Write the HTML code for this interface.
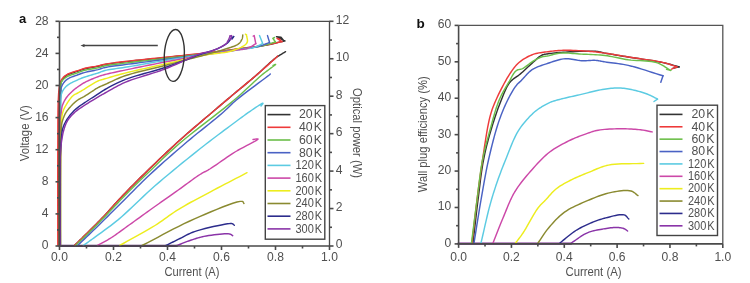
<!DOCTYPE html>
<html><head><meta charset="utf-8"><style>
html,body{margin:0;padding:0;background:#fff;}
body{width:750px;height:283px;overflow:hidden;}
svg{display:block;filter:blur(0.3px);}
text{font-family:"Liberation Sans", sans-serif;fill:#505050;}
</style></head><body>
<svg width="750" height="283" viewBox="0 0 750 283">
<g fill="none" stroke-linejoin="round" stroke-linecap="round">
<path d="M59.5 245.8 L177 245.8" stroke="#5a2a70" stroke-width="2.2"/>
<path d="M74.50 245.50 L75.48 244.54 L76.44 243.61 L77.38 242.68 L78.33 241.76 L79.28 240.83 L80.24 239.89 L81.23 238.92 L82.24 237.93 L83.30 236.89 L84.40 235.80 L85.95 234.27 L87.57 232.68 L89.25 231.02 L90.98 229.31 L92.76 227.56 L94.57 225.76 L96.40 223.93 L98.24 222.07 L100.07 220.19 L101.90 218.30 L103.96 216.13 L106.02 213.90 L108.10 211.62 L110.20 209.30 L112.31 206.95 L114.45 204.58 L116.61 202.19 L118.81 199.79 L121.03 197.39 L123.30 195.00 L125.82 192.38 L128.39 189.75 L130.99 187.10 L133.64 184.43 L136.31 181.75 L139.01 179.07 L141.74 176.38 L144.48 173.68 L147.23 170.99 L150.00 168.30 L152.90 165.49 L155.82 162.67 L158.75 159.84 L161.70 157.01 L164.68 154.18 L167.68 151.35 L170.72 148.51 L173.78 145.67 L176.87 142.84 L180.00 140.00 L183.42 136.95 L187.00 133.80 L190.68 130.61 L194.41 127.40 L198.14 124.22 L201.81 121.09 L205.38 118.07 L208.79 115.19 L211.98 112.49 L214.90 110.00 L216.64 108.51 L218.25 107.14 L219.76 105.86 L221.19 104.64 L222.59 103.46 L223.97 102.28 L225.37 101.10 L226.82 99.87 L228.36 98.58 L230.00 97.20 L232.29 95.29 L234.71 93.27 L237.23 91.18 L239.84 89.03 L242.49 86.84 L245.15 84.63 L247.81 82.43 L250.42 80.24 L252.96 78.09 L255.40 76.00 L257.55 74.11 L259.71 72.17 L261.85 70.20 L263.97 68.23 L266.05 66.29 L268.09 64.41 L270.08 62.62 L272.00 60.93 L273.84 59.38 L275.60 58.00 L276.70 57.19 L277.75 56.46 L278.77 55.79 L279.75 55.16 L280.72 54.57 L281.67 54.01 L282.62 53.45 L283.56 52.89 L284.52 52.31 L285.50 51.70" stroke="#333333" stroke-width="1.45"/>
<path d="M74.50 245.50 L75.48 244.54 L76.44 243.61 L77.38 242.68 L78.33 241.76 L79.28 240.83 L80.24 239.89 L81.23 238.92 L82.24 237.93 L83.30 236.89 L84.40 235.80 L85.95 234.27 L87.57 232.68 L89.25 231.02 L90.98 229.31 L92.76 227.56 L94.57 225.76 L96.40 223.93 L98.24 222.07 L100.07 220.19 L101.90 218.30 L103.96 216.13 L106.02 213.90 L108.10 211.62 L110.20 209.30 L112.31 206.95 L114.45 204.58 L116.61 202.19 L118.81 199.79 L121.03 197.39 L123.30 195.00 L125.82 192.38 L128.39 189.75 L130.99 187.10 L133.64 184.43 L136.31 181.75 L139.01 179.07 L141.74 176.38 L144.48 173.68 L147.23 170.99 L150.00 168.30 L152.90 165.49 L155.82 162.67 L158.75 159.84 L161.70 157.01 L164.68 154.18 L167.68 151.35 L170.72 148.51 L173.78 145.67 L176.87 142.84 L180.00 140.00 L183.42 136.95 L187.00 133.80 L190.68 130.61 L194.41 127.40 L198.14 124.22 L201.81 121.09 L205.38 118.07 L208.79 115.19 L211.98 112.49 L214.90 110.00 L216.64 108.51 L218.25 107.14 L219.76 105.86 L221.19 104.64 L222.59 103.46 L223.97 102.28 L225.37 101.10 L226.82 99.87 L228.36 98.58 L230.00 97.20 L232.29 95.29 L234.71 93.27 L237.23 91.18 L239.84 89.03 L242.49 86.84 L245.15 84.63 L247.81 82.43 L250.42 80.24 L252.96 78.09 L255.40 76.00 L257.62 74.08 L259.94 72.05 L262.31 69.97 L264.67 67.88 L266.97 65.84 L269.15 63.89 L271.15 62.08 L272.93 60.46 L274.44 59.09 L275.60 58.00 L275.90 57.71 L276.17 57.46 L276.40 57.23 L276.60 57.02 L276.79 56.83 L276.97 56.65 L277.14 56.47 L277.32 56.29 L277.50 56.10 L277.70 55.90" stroke="#ee3a3a" stroke-width="1.45"/>
<path d="M75.50 245.50 L76.54 244.51 L77.56 243.54 L78.58 242.59 L79.59 241.63 L80.60 240.67 L81.63 239.70 L82.68 238.71 L83.75 237.68 L84.85 236.61 L86.00 235.50 L87.53 234.00 L89.12 232.44 L90.76 230.82 L92.43 229.16 L94.14 227.45 L95.88 225.71 L97.65 223.94 L99.42 222.14 L101.21 220.33 L103.00 218.50 L105.05 216.39 L107.12 214.23 L109.21 212.02 L111.33 209.78 L113.47 207.51 L115.63 205.22 L117.82 202.92 L120.02 200.61 L122.25 198.30 L124.50 196.00 L126.94 193.54 L129.40 191.06 L131.89 188.57 L134.40 186.08 L136.94 183.57 L139.50 181.06 L142.09 178.53 L144.70 176.00 L147.34 173.45 L150.00 170.90 L152.84 168.17 L155.66 165.46 L158.47 162.75 L161.31 160.03 L164.19 157.30 L167.13 154.54 L170.16 151.74 L173.30 148.89 L176.57 145.98 L180.00 143.00 L184.81 138.96 L190.05 134.72 L195.60 130.34 L201.36 125.85 L207.22 121.33 L213.07 116.82 L218.80 112.38 L224.31 108.06 L229.48 103.92 L234.20 100.00 L237.42 97.22 L240.52 94.46 L243.51 91.74 L246.40 89.06 L249.19 86.45 L251.89 83.92 L254.49 81.50 L257.01 79.19 L259.44 77.02 L261.80 75.00 L263.48 73.64 L265.29 72.24 L267.15 70.83 L269.00 69.47 L270.76 68.18 L272.36 67.02 L273.71 66.02 L274.75 65.22 L275.41 64.67 L275.60 64.40 L275.53 64.39 L275.38 64.42 L275.16 64.50 L274.90 64.62 L274.59 64.76 L274.26 64.91 L273.93 65.07 L273.59 65.23 L273.28 65.38 L273.00 65.50" stroke="#6cbf4a" stroke-width="1.45"/>
<path d="M77.60 245.50 L79.84 243.36 L82.06 241.23 L84.29 239.11 L86.51 236.99 L88.73 234.87 L90.96 232.74 L93.20 230.59 L95.45 228.42 L97.72 226.23 L100.00 224.00 L102.47 221.58 L104.96 219.11 L107.47 216.62 L109.99 214.09 L112.53 211.56 L115.07 209.01 L117.61 206.47 L120.15 203.93 L122.68 201.40 L125.20 198.90 L127.66 196.46 L130.08 194.04 L132.47 191.64 L134.85 189.24 L137.25 186.85 L139.67 184.44 L142.14 182.01 L144.67 179.55 L147.29 177.05 L150.00 174.50 L153.38 171.38 L156.91 168.16 L160.55 164.88 L164.28 161.56 L168.08 158.21 L171.91 154.85 L175.76 151.51 L179.59 148.21 L183.38 144.96 L187.10 141.80 L190.66 138.82 L194.32 135.81 L198.04 132.80 L201.76 129.82 L205.45 126.88 L209.05 123.99 L212.54 121.19 L215.85 118.50 L218.95 115.93 L221.80 113.50 L223.51 111.99 L225.05 110.58 L226.47 109.23 L227.81 107.94 L229.11 106.68 L230.40 105.42 L231.74 104.15 L233.16 102.83 L234.70 101.46 L236.40 100.00 L239.32 97.62 L242.80 94.89 L246.65 91.94 L250.70 88.88 L254.77 85.84 L258.68 82.93 L262.26 80.27 L265.32 77.98 L267.70 76.19 L269.20 75.00 L269.38 74.85 L269.52 74.72 L269.65 74.61 L269.76 74.51 L269.85 74.43 L269.94 74.34 L270.02 74.26 L270.11 74.18 L270.20 74.09 L270.30 74.00" stroke="#4a62c4" stroke-width="1.45"/>
<path d="M83.30 245.50 L84.45 244.67 L85.58 243.87 L86.69 243.08 L87.79 242.29 L88.91 241.50 L90.04 240.69 L91.21 239.86 L92.41 238.99 L93.67 238.07 L95.00 237.10 L96.99 235.65 L99.09 234.13 L101.29 232.56 L103.56 230.92 L105.90 229.21 L108.31 227.43 L110.76 225.59 L113.25 223.67 L115.77 221.67 L118.30 219.60 L121.66 216.72 L125.11 213.64 L128.64 210.38 L132.24 206.99 L135.91 203.50 L139.64 199.94 L143.42 196.36 L147.24 192.78 L151.11 189.25 L155.00 185.80 L159.31 182.08 L163.78 178.28 L168.36 174.43 L173.01 170.58 L177.69 166.73 L182.35 162.93 L186.95 159.21 L191.46 155.59 L195.82 152.11 L200.00 148.80 L203.24 146.25 L206.42 143.77 L209.55 141.37 L212.61 139.03 L215.62 136.74 L218.58 134.51 L221.50 132.33 L224.37 130.19 L227.20 128.08 L230.00 126.00 L232.36 124.24 L234.72 122.49 L237.06 120.74 L239.37 119.03 L241.65 117.35 L243.87 115.73 L246.03 114.17 L248.11 112.69 L250.10 111.29 L252.00 110.00 L253.33 109.11 L254.73 108.16 L256.17 107.20 L257.59 106.26 L258.94 105.38 L260.18 104.59 L261.25 103.95 L262.11 103.47 L262.71 103.21 L263.00 103.20 L263.01 103.31 L262.93 103.49 L262.78 103.72 L262.58 104.01 L262.33 104.33 L262.05 104.67 L261.76 105.02 L261.48 105.37 L261.22 105.70 L261.00 106.00" stroke="#5ccbe2" stroke-width="1.45"/>
<path d="M97.50 245.50 L98.91 244.71 L100.33 243.92 L101.75 243.15 L103.18 242.37 L104.60 241.59 L106.02 240.80 L107.43 240.01 L108.83 239.19 L110.22 238.36 L111.60 237.50 L112.95 236.62 L114.27 235.74 L115.55 234.85 L116.82 233.95 L118.09 233.03 L119.38 232.09 L120.70 231.12 L122.07 230.12 L123.50 229.08 L125.00 228.00 L127.18 226.44 L129.48 224.78 L131.88 223.05 L134.37 221.26 L136.92 219.41 L139.51 217.54 L142.14 215.64 L144.77 213.75 L147.40 211.86 L150.00 210.00 L152.77 208.03 L155.60 206.02 L158.47 203.99 L161.37 201.95 L164.27 199.90 L167.17 197.87 L170.03 195.85 L172.85 193.86 L175.62 191.90 L178.30 190.00 L180.62 188.33 L182.96 186.64 L185.28 184.94 L187.57 183.25 L189.83 181.60 L192.04 179.99 L194.17 178.46 L196.22 177.02 L198.17 175.70 L200.00 174.50 L201.10 173.82 L202.11 173.23 L203.06 172.70 L203.96 172.22 L204.85 171.75 L205.74 171.29 L206.66 170.81 L207.63 170.28 L208.67 169.68 L209.80 169.00 L211.86 167.69 L214.13 166.18 L216.55 164.53 L219.09 162.76 L221.73 160.92 L224.42 159.05 L227.12 157.18 L229.81 155.36 L232.45 153.62 L235.00 152.00 L237.54 150.50 L240.40 148.91 L243.45 147.28 L246.54 145.66 L249.53 144.10 L252.28 142.65 L254.64 141.37 L256.48 140.30 L257.65 139.49 L258.00 139.00 L257.87 138.90 L257.58 138.86 L257.17 138.87 L256.66 138.93 L256.07 139.02 L255.44 139.12 L254.79 139.23 L254.15 139.34 L253.54 139.43 L253.00 139.50" stroke="#cc48a8" stroke-width="1.45"/>
<path d="M119.70 245.50 L123.27 243.50 L126.89 241.49 L130.54 239.48 L134.20 237.46 L137.84 235.45 L141.44 233.44 L144.99 231.44 L148.44 229.45 L151.79 227.47 L155.00 225.50 L157.56 223.85 L160.00 222.21 L162.35 220.58 L164.63 218.95 L166.87 217.33 L169.11 215.71 L171.37 214.10 L173.69 212.49 L176.09 210.89 L178.60 209.30 L181.55 207.52 L184.58 205.76 L187.68 204.00 L190.84 202.26 L194.05 200.53 L197.30 198.79 L200.58 197.06 L203.88 195.31 L207.19 193.56 L210.50 191.80 L214.04 189.91 L217.63 188.01 L221.26 186.11 L224.91 184.20 L228.59 182.28 L232.27 180.36 L235.97 178.45 L239.66 176.53 L243.34 174.61 L247.00 172.70" stroke="#eded1e" stroke-width="1.45"/>
<path d="M142.00 245.50 L147.26 242.80 L152.52 240.05 L157.79 237.27 L163.05 234.47 L168.32 231.70 L173.58 228.96 L178.83 226.29 L184.07 223.70 L189.30 221.23 L194.50 218.90 L199.62 216.67 L205.17 214.26 L210.98 211.77 L216.84 209.32 L222.57 207.01 L227.96 204.95 L232.82 203.25 L236.96 202.02 L240.19 201.37 L242.30 201.40 L242.61 201.52 L242.86 201.67 L243.07 201.86 L243.23 202.07 L243.37 202.31 L243.49 202.55 L243.60 202.80 L243.72 203.04 L243.85 203.28 L244.00 203.50" stroke="#8a8a30" stroke-width="1.45"/>
<path d="M165.90 245.50 L167.31 244.80 L168.72 244.10 L170.12 243.39 L171.53 242.69 L172.93 241.99 L174.34 241.29 L175.75 240.59 L177.16 239.89 L178.58 239.19 L180.00 238.50 L181.41 237.80 L182.77 237.09 L184.11 236.38 L185.44 235.67 L186.79 234.96 L188.17 234.26 L189.62 233.57 L191.14 232.90 L192.76 232.24 L194.50 231.60 L197.53 230.63 L201.09 229.61 L205.03 228.57 L209.18 227.55 L213.39 226.58 L217.48 225.70 L221.31 224.92 L224.69 224.29 L227.48 223.84 L229.50 223.60 L229.93 223.57 L230.32 223.54 L230.67 223.53 L230.98 223.53 L231.26 223.54 L231.53 223.56 L231.77 223.59 L232.02 223.65 L232.25 223.71 L232.50 223.80 L232.71 223.89 L232.91 224.01 L233.10 224.14 L233.27 224.28 L233.45 224.43 L233.62 224.59 L233.78 224.74 L233.95 224.90 L234.12 225.05 L234.30 225.20" stroke="#2c2c8c" stroke-width="1.45"/>
<path d="M177.00 245.50 L178.30 245.00 L179.59 244.48 L180.88 243.97 L182.17 243.45 L183.46 242.94 L184.75 242.43 L186.05 241.93 L187.36 241.44 L188.67 240.96 L190.00 240.50 L191.35 240.04 L192.69 239.59 L194.02 239.14 L195.35 238.70 L196.70 238.27 L198.07 237.86 L199.48 237.46 L200.93 237.09 L202.43 236.73 L204.00 236.40 L206.23 235.99 L208.74 235.58 L211.43 235.19 L214.22 234.82 L217.02 234.49 L219.73 234.21 L222.28 233.99 L224.56 233.84 L226.50 233.77 L228.00 233.80 L228.42 233.83 L228.80 233.87 L229.15 233.92 L229.46 233.98 L229.75 234.04 L230.01 234.12 L230.27 234.20 L230.51 234.29 L230.75 234.39 L231.00 234.50 L231.20 234.60 L231.38 234.70 L231.56 234.82 L231.73 234.94 L231.89 235.06 L232.05 235.19 L232.21 235.32 L232.37 235.45 L232.53 235.58 L232.70 235.70" stroke="#8a34a8" stroke-width="1.45"/>
<path d="M58.80 245.50 L58.80 235.81 L58.79 225.91 L58.78 215.89 L58.77 205.83 L58.76 195.84 L58.75 185.99 L58.75 176.40 L58.76 167.14 L58.77 158.31 L58.80 150.00 L58.82 144.20 L58.83 138.45 L58.83 132.80 L58.84 127.29 L58.85 121.97 L58.88 116.89 L58.92 112.11 L58.98 107.66 L59.07 103.61 L59.20 100.00 L59.27 98.34 L59.34 96.78 L59.41 95.33 L59.48 93.97 L59.56 92.68 L59.65 91.46 L59.75 90.29 L59.88 89.17 L60.03 88.08 L60.20 87.00 L60.33 86.25 L60.46 85.52 L60.59 84.83 L60.72 84.16 L60.87 83.51 L61.04 82.88 L61.23 82.27 L61.45 81.67 L61.71 81.08 L62.00 80.50 L62.33 79.93 L62.67 79.38 L63.05 78.84 L63.44 78.32 L63.87 77.81 L64.33 77.32 L64.82 76.84 L65.34 76.38 L65.90 75.93 L66.50 75.50 L67.40 74.95 L68.41 74.44 L69.52 73.96 L70.70 73.51 L71.93 73.09 L73.17 72.69 L74.40 72.30 L75.60 71.93 L76.74 71.56 L77.80 71.20 L78.57 70.92 L79.30 70.66 L80.00 70.40 L80.68 70.15 L81.35 69.92 L82.03 69.69 L82.72 69.46 L83.44 69.24 L84.19 69.02 L85.00 68.80 L86.16 68.52 L87.41 68.25 L88.74 67.99 L90.11 67.74 L91.51 67.50 L92.90 67.26 L94.27 67.02 L95.60 66.78 L96.85 66.54 L98.00 66.30 L98.77 66.12 L99.48 65.94 L100.15 65.75 L100.78 65.57 L101.41 65.39 L102.04 65.21 L102.70 65.03 L103.40 64.85 L104.16 64.67 L105.00 64.50 L106.55 64.22 L108.22 63.94 L110.02 63.67 L111.92 63.40 L113.92 63.14 L116.00 62.88 L118.16 62.61 L120.39 62.35 L122.67 62.08 L125.00 61.80 L128.44 61.40 L132.12 60.99 L135.99 60.58 L140.01 60.16 L144.14 59.73 L148.34 59.31 L152.57 58.88 L156.78 58.45 L160.94 58.03 L165.00 57.60 L169.01 57.18 L173.04 56.75 L177.09 56.33 L181.13 55.91 L185.17 55.49 L189.20 55.06 L193.20 54.63 L197.17 54.19 L201.11 53.75 L205.00 53.30 L208.62 52.87 L212.25 52.42 L215.86 51.97 L219.45 51.51 L223.02 51.05 L226.54 50.58 L230.01 50.13 L233.41 49.67 L236.75 49.23 L240.00 48.80 L242.69 48.45 L245.33 48.12 L247.92 47.81 L250.48 47.50 L252.99 47.18 L255.46 46.87 L257.90 46.53 L260.30 46.18 L262.67 45.81 L265.00 45.40 L267.01 45.01 L268.98 44.60 L270.90 44.18 L272.80 43.74 L274.67 43.28 L276.53 42.82 L278.39 42.36 L280.24 41.90 L282.11 41.45 L284.00 41.00" stroke="#333333" stroke-width="1.45"/>
<path d="M284.00 41.00 L281.00 37.20 L276.50 36.70 L279.00 38.00 L285.00 40.90" stroke="#333333" stroke-width="1.45"/>
<path d="M57.80 245.50 L57.80 235.81 L57.79 225.91 L57.77 215.89 L57.76 205.83 L57.75 195.84 L57.74 185.99 L57.74 176.40 L57.75 167.14 L57.77 158.31 L57.80 150.00 L57.82 144.21 L57.84 138.48 L57.85 132.85 L57.86 127.37 L57.88 122.07 L57.91 117.01 L57.97 112.23 L58.05 107.77 L58.15 103.68 L58.30 100.00 L58.38 98.22 L58.47 96.55 L58.55 94.98 L58.63 93.50 L58.73 92.09 L58.84 90.76 L58.97 89.50 L59.12 88.29 L59.29 87.13 L59.50 86.00 L59.65 85.26 L59.79 84.57 L59.94 83.90 L60.10 83.26 L60.27 82.65 L60.46 82.05 L60.67 81.47 L60.91 80.91 L61.18 80.35 L61.50 79.80 L61.87 79.23 L62.26 78.68 L62.68 78.14 L63.13 77.62 L63.62 77.11 L64.13 76.62 L64.67 76.14 L65.25 75.68 L65.86 75.23 L66.50 74.80 L67.42 74.27 L68.45 73.77 L69.57 73.30 L70.75 72.86 L71.97 72.44 L73.20 72.05 L74.42 71.67 L75.61 71.31 L76.75 70.95 L77.80 70.60 L78.57 70.33 L79.30 70.08 L80.00 69.83 L80.68 69.59 L81.35 69.37 L82.03 69.15 L82.72 68.93 L83.44 68.72 L84.20 68.51 L85.00 68.30 L86.16 68.03 L87.41 67.77 L88.74 67.52 L90.11 67.28 L91.51 67.05 L92.90 66.82 L94.27 66.59 L95.60 66.36 L96.85 66.13 L98.00 65.90 L98.77 65.73 L99.48 65.56 L100.15 65.38 L100.78 65.21 L101.41 65.04 L102.04 64.87 L102.70 64.70 L103.40 64.53 L104.16 64.37 L105.00 64.20 L106.55 63.92 L108.23 63.65 L110.02 63.38 L111.92 63.12 L113.92 62.85 L116.00 62.59 L118.17 62.32 L120.39 62.05 L122.67 61.78 L125.00 61.50 L128.44 61.10 L132.12 60.69 L135.99 60.28 L140.01 59.86 L144.14 59.43 L148.34 59.01 L152.57 58.58 L156.78 58.15 L160.94 57.73 L165.00 57.30 L169.01 56.88 L173.04 56.45 L177.09 56.03 L181.13 55.61 L185.17 55.18 L189.20 54.75 L193.20 54.32 L197.17 53.89 L201.11 53.45 L205.00 53.00 L208.62 52.57 L212.25 52.14 L215.86 51.69 L219.45 51.25 L223.02 50.80 L226.54 50.35 L230.01 49.90 L233.42 49.46 L236.75 49.02 L240.00 48.60 L242.69 48.25 L245.35 47.92 L247.97 47.59 L250.54 47.27 L253.07 46.95 L255.56 46.62 L258.00 46.29 L260.38 45.94 L262.72 45.58 L265.00 45.20 L266.84 44.87 L268.62 44.53 L270.35 44.17 L272.04 43.81 L273.71 43.44 L275.36 43.07 L277.01 42.70 L278.65 42.33 L280.32 41.96 L282.00 41.60" stroke="#ee3a3a" stroke-width="1.45"/>
<path d="M282.00 41.60 L277.00 38.30 L280.00 39.50" stroke="#ee3a3a" stroke-width="1.45"/>
<path d="M59.50 245.50 L59.51 235.79 L59.51 225.83 L59.51 215.73 L59.51 205.60 L59.51 195.53 L59.52 185.64 L59.53 176.04 L59.54 166.83 L59.57 158.11 L59.60 150.00 L59.62 144.71 L59.64 139.54 L59.66 134.51 L59.68 129.64 L59.71 124.95 L59.74 120.46 L59.78 116.20 L59.84 112.19 L59.91 108.45 L60.00 105.00 L60.06 103.15 L60.13 101.41 L60.20 99.76 L60.28 98.20 L60.36 96.71 L60.45 95.28 L60.53 93.91 L60.62 92.58 L60.71 91.28 L60.80 90.00 L60.84 89.08 L60.86 88.17 L60.85 87.29 L60.84 86.44 L60.84 85.61 L60.87 84.81 L60.93 84.04 L61.05 83.29 L61.23 82.58 L61.50 81.90 L61.82 81.30 L62.18 80.74 L62.59 80.20 L63.05 79.69 L63.54 79.20 L64.08 78.74 L64.64 78.29 L65.23 77.85 L65.86 77.42 L66.50 77.00 L67.42 76.47 L68.46 75.96 L69.57 75.49 L70.75 75.04 L71.97 74.62 L73.20 74.21 L74.42 73.82 L75.61 73.44 L76.75 73.07 L77.80 72.70 L78.57 72.41 L79.30 72.14 L80.00 71.87 L80.68 71.61 L81.35 71.36 L82.03 71.12 L82.72 70.88 L83.44 70.65 L84.19 70.42 L85.00 70.20 L86.16 69.92 L87.41 69.66 L88.74 69.42 L90.11 69.18 L91.51 68.96 L92.90 68.74 L94.28 68.51 L95.60 68.29 L96.85 68.05 L98.00 67.80 L98.77 67.61 L99.48 67.41 L100.15 67.20 L100.78 67.00 L101.41 66.79 L102.04 66.59 L102.69 66.39 L103.40 66.18 L104.16 65.99 L105.00 65.80 L106.55 65.50 L108.22 65.22 L110.02 64.95 L111.92 64.69 L113.92 64.43 L116.00 64.18 L118.16 63.92 L120.39 63.66 L122.67 63.39 L125.00 63.10 L128.44 62.68 L132.12 62.24 L135.99 61.79 L140.01 61.33 L144.14 60.86 L148.34 60.39 L152.57 59.92 L156.78 59.44 L160.94 58.97 L165.00 58.50 L169.01 58.04 L173.04 57.57 L177.09 57.11 L181.13 56.65 L185.17 56.18 L189.20 55.72 L193.20 55.25 L197.17 54.77 L201.11 54.29 L205.00 53.80 L208.63 53.33 L212.28 52.85 L215.93 52.36 L219.56 51.87 L223.16 51.37 L226.70 50.88 L230.17 50.39 L233.56 49.91 L236.84 49.45 L240.00 49.00 L242.43 48.67 L244.82 48.35 L247.15 48.06 L249.43 47.77 L251.67 47.48 L253.85 47.18 L255.97 46.87 L258.04 46.54 L260.05 46.19 L262.00 45.80 L263.49 45.47 L264.93 45.11 L266.31 44.74 L267.65 44.36 L268.97 43.97 L270.27 43.57 L271.56 43.18 L272.86 42.78 L274.17 42.39 L275.50 42.00" stroke="#6cbf4a" stroke-width="1.45"/>
<path d="M275.50 42.00 L272.80 38.30 L274.50 37.50" stroke="#6cbf4a" stroke-width="1.45"/>
<path d="M59.80 245.50 L59.82 235.79 L59.83 225.83 L59.84 215.73 L59.85 205.60 L59.86 195.53 L59.87 185.64 L59.89 176.04 L59.92 166.83 L59.95 158.11 L60.00 150.00 L60.04 144.69 L60.07 139.47 L60.11 134.37 L60.15 129.42 L60.19 124.66 L60.24 120.13 L60.30 115.86 L60.36 111.89 L60.42 108.26 L60.50 105.00 L60.54 103.47 L60.59 102.05 L60.63 100.71 L60.68 99.45 L60.73 98.27 L60.78 97.14 L60.83 96.06 L60.88 95.02 L60.94 94.00 L61.00 93.00 L61.03 92.31 L61.04 91.65 L61.03 91.01 L61.03 90.41 L61.03 89.81 L61.05 89.23 L61.10 88.66 L61.18 88.08 L61.31 87.50 L61.50 86.90 L61.79 86.17 L62.13 85.43 L62.52 84.67 L62.96 83.92 L63.45 83.17 L63.98 82.44 L64.55 81.73 L65.16 81.05 L65.81 80.40 L66.50 79.80 L67.41 79.14 L68.43 78.52 L69.54 77.95 L70.72 77.42 L71.94 76.93 L73.17 76.46 L74.40 76.02 L75.60 75.60 L76.74 75.20 L77.80 74.80 L78.57 74.50 L79.30 74.23 L80.00 73.97 L80.68 73.73 L81.35 73.50 L82.03 73.28 L82.72 73.06 L83.44 72.84 L84.20 72.62 L85.00 72.40 L86.16 72.10 L87.41 71.81 L88.74 71.53 L90.11 71.25 L91.51 70.98 L92.90 70.70 L94.28 70.43 L95.60 70.16 L96.85 69.88 L98.00 69.60 L98.77 69.39 L99.48 69.18 L100.15 68.96 L100.78 68.75 L101.40 68.53 L102.04 68.32 L102.69 68.11 L103.39 67.90 L104.16 67.70 L105.00 67.50 L106.55 67.18 L108.22 66.88 L110.02 66.59 L111.92 66.32 L113.92 66.04 L116.00 65.77 L118.16 65.49 L120.39 65.21 L122.67 64.91 L125.00 64.60 L128.44 64.14 L132.12 63.66 L135.99 63.16 L140.01 62.65 L144.14 62.14 L148.34 61.61 L152.57 61.08 L156.78 60.55 L160.94 60.02 L165.00 59.50 L169.01 58.98 L173.04 58.45 L177.09 57.92 L181.13 57.39 L185.17 56.86 L189.19 56.32 L193.20 55.79 L197.17 55.26 L201.11 54.73 L205.00 54.20 L208.65 53.70 L212.34 53.20 L216.04 52.68 L219.72 52.17 L223.37 51.66 L226.94 51.16 L230.42 50.67 L233.78 50.19 L236.98 49.74 L240.00 49.30 L242.06 49.01 L244.05 48.76 L245.97 48.52 L247.83 48.29 L249.64 48.06 L251.39 47.83 L253.10 47.57 L254.77 47.29 L256.40 46.97 L258.00 46.60 L259.28 46.26 L260.50 45.89 L261.69 45.49 L262.85 45.08 L263.98 44.66 L265.10 44.22 L266.21 43.78 L267.33 43.35 L268.45 42.92 L269.60 42.50" stroke="#4a62c4" stroke-width="1.45"/>
<path d="M269.60 42.50 L267.50 35.60" stroke="#4a62c4" stroke-width="1.45"/>
<path d="M60.00 245.50 L60.02 235.77 L60.03 225.75 L60.04 215.56 L60.05 205.34 L60.06 195.19 L60.07 185.25 L60.09 175.64 L60.12 166.48 L60.15 157.89 L60.20 150.00 L60.23 145.23 L60.27 140.62 L60.30 136.18 L60.33 131.91 L60.37 127.81 L60.42 123.89 L60.47 120.14 L60.54 116.58 L60.61 113.20 L60.70 110.00 L60.74 108.07 L60.73 106.21 L60.70 104.43 L60.68 102.72 L60.66 101.09 L60.69 99.52 L60.76 98.02 L60.91 96.58 L61.15 95.21 L61.50 93.90 L61.83 92.96 L62.19 92.06 L62.59 91.21 L63.03 90.40 L63.50 89.62 L64.02 88.87 L64.57 88.15 L65.17 87.45 L65.81 86.77 L66.50 86.10 L67.40 85.33 L68.42 84.59 L69.53 83.88 L70.71 83.21 L71.92 82.56 L73.16 81.95 L74.39 81.37 L75.59 80.82 L76.73 80.29 L77.80 79.80 L78.56 79.45 L79.29 79.13 L79.99 78.83 L80.67 78.56 L81.34 78.30 L82.02 78.05 L82.72 77.80 L83.44 77.54 L84.20 77.28 L85.00 77.00 L86.16 76.61 L87.41 76.21 L88.74 75.80 L90.11 75.39 L91.51 74.98 L92.90 74.56 L94.27 74.16 L95.60 73.76 L96.85 73.37 L98.00 73.00 L98.77 72.73 L99.48 72.47 L100.14 72.21 L100.77 71.95 L101.40 71.70 L102.03 71.45 L102.69 71.21 L103.39 70.97 L104.15 70.73 L105.00 70.50 L106.54 70.14 L108.22 69.81 L110.01 69.50 L111.91 69.20 L113.92 68.91 L116.00 68.62 L118.17 68.32 L120.39 68.01 L122.68 67.67 L125.00 67.30 L128.44 66.72 L132.12 66.10 L135.99 65.43 L140.01 64.73 L144.14 64.02 L148.34 63.29 L152.56 62.57 L156.78 61.85 L160.94 61.16 L165.00 60.50 L169.01 59.86 L173.04 59.24 L177.08 58.62 L181.12 58.01 L185.16 57.40 L189.19 56.81 L193.19 56.22 L197.17 55.64 L201.11 55.06 L205.00 54.50 L208.66 53.97 L212.40 53.45 L216.17 52.92 L219.92 52.41 L223.63 51.90 L227.25 51.40 L230.73 50.92 L234.05 50.46 L237.15 50.02 L240.00 49.60 L241.67 49.36 L243.26 49.16 L244.78 48.97 L246.23 48.80 L247.63 48.62 L248.97 48.44 L250.27 48.24 L251.54 48.00 L252.78 47.73 L254.00 47.40 L254.97 47.09 L255.90 46.76 L256.79 46.39 L257.66 46.01 L258.51 45.61 L259.34 45.21 L260.17 44.80 L261.00 44.39 L261.84 43.99 L262.70 43.60" stroke="#5ccbe2" stroke-width="1.45"/>
<path d="M262.70 43.60 L259.50 35.60" stroke="#5ccbe2" stroke-width="1.45"/>
<path d="M60.20 245.50 L60.23 235.72 L60.25 225.58 L60.27 215.25 L60.29 204.85 L60.31 194.57 L60.33 184.53 L60.36 174.91 L60.39 165.84 L60.44 157.49 L60.50 150.00 L60.54 146.00 L60.58 142.13 L60.62 138.40 L60.66 134.84 L60.70 131.46 L60.75 128.28 L60.81 125.33 L60.86 122.61 L60.93 120.17 L61.00 118.00 L61.03 117.11 L61.06 116.31 L61.09 115.57 L61.12 114.89 L61.15 114.25 L61.18 113.63 L61.22 113.03 L61.27 112.44 L61.33 111.83 L61.40 111.20 L61.47 110.61 L61.53 110.04 L61.59 109.47 L61.66 108.91 L61.73 108.36 L61.82 107.80 L61.93 107.24 L62.06 106.67 L62.21 106.09 L62.40 105.50 L62.67 104.74 L62.98 103.95 L63.32 103.14 L63.69 102.32 L64.10 101.50 L64.53 100.68 L64.99 99.86 L65.47 99.05 L65.97 98.26 L66.50 97.50 L67.11 96.69 L67.78 95.87 L68.50 95.05 L69.25 94.24 L70.02 93.45 L70.80 92.68 L71.57 91.95 L72.32 91.25 L73.03 90.60 L73.70 90.00 L74.14 89.62 L74.55 89.27 L74.95 88.95 L75.33 88.65 L75.72 88.36 L76.10 88.08 L76.50 87.80 L76.91 87.52 L77.34 87.22 L77.80 86.90 L78.42 86.47 L79.06 86.02 L79.72 85.56 L80.40 85.10 L81.11 84.63 L81.83 84.16 L82.59 83.69 L83.36 83.22 L84.17 82.75 L85.00 82.30 L86.15 81.71 L87.39 81.11 L88.71 80.50 L90.08 79.89 L91.48 79.29 L92.87 78.71 L94.25 78.15 L95.58 77.62 L96.84 77.14 L98.00 76.70 L98.76 76.42 L99.47 76.17 L100.13 75.94 L100.76 75.73 L101.39 75.52 L102.03 75.33 L102.69 75.14 L103.39 74.94 L104.16 74.73 L105.00 74.50 L106.55 74.10 L108.22 73.70 L110.02 73.28 L111.92 72.86 L113.92 72.43 L116.00 71.98 L118.16 71.53 L120.39 71.07 L122.67 70.59 L125.00 70.10 L128.44 69.38 L132.12 68.61 L135.98 67.80 L140.00 66.98 L144.13 66.13 L148.33 65.28 L152.56 64.43 L156.77 63.60 L160.93 62.78 L165.00 62.00 L169.02 61.23 L173.09 60.47 L177.17 59.71 L181.27 58.95 L185.35 58.21 L189.40 57.48 L193.41 56.78 L197.36 56.09 L201.23 55.43 L205.00 54.80 L208.23 54.28 L211.47 53.77 L214.70 53.28 L217.90 52.81 L221.04 52.35 L224.09 51.91 L227.04 51.48 L229.86 51.07 L232.52 50.68 L235.00 50.30 L236.54 50.08 L238.01 49.90 L239.42 49.74 L240.78 49.59 L242.08 49.44 L243.34 49.28 L244.56 49.09 L245.74 48.85 L246.88 48.56 L248.00 48.20 L248.89 47.84 L249.73 47.45 L250.54 47.01 L251.31 46.55 L252.07 46.06 L252.81 45.56 L253.55 45.06 L254.28 44.56 L255.03 44.07 L255.80 43.60" stroke="#cc48a8" stroke-width="1.45"/>
<path d="M255.80 43.60 L254.20 35.60 L253.20 36.10" stroke="#cc48a8" stroke-width="1.45"/>
<path d="M60.40 245.50 L60.41 235.67 L60.42 225.41 L60.42 214.91 L60.42 204.34 L60.42 193.89 L60.43 183.76 L60.45 174.11 L60.48 165.15 L60.53 157.05 L60.60 150.00 L60.64 146.77 L60.69 143.71 L60.74 140.81 L60.79 138.07 L60.85 135.50 L60.91 133.08 L60.97 130.82 L61.04 128.72 L61.12 126.78 L61.20 125.00 L61.24 124.16 L61.28 123.39 L61.31 122.68 L61.35 122.02 L61.39 121.39 L61.43 120.78 L61.48 120.19 L61.54 119.58 L61.62 118.96 L61.70 118.30 L61.80 117.59 L61.89 116.88 L61.99 116.17 L62.10 115.46 L62.22 114.74 L62.36 114.03 L62.51 113.31 L62.68 112.60 L62.88 111.90 L63.10 111.20 L63.36 110.48 L63.64 109.76 L63.94 109.05 L64.26 108.34 L64.60 107.64 L64.96 106.94 L65.35 106.23 L65.75 105.52 L66.16 104.81 L66.60 104.10 L67.14 103.24 L67.71 102.35 L68.33 101.43 L68.96 100.50 L69.62 99.58 L70.30 98.68 L70.98 97.83 L71.66 97.04 L72.34 96.32 L73.00 95.70 L73.47 95.32 L73.95 94.98 L74.43 94.69 L74.90 94.43 L75.38 94.19 L75.86 93.96 L76.35 93.74 L76.83 93.51 L77.31 93.27 L77.80 93.00 L78.29 92.72 L78.77 92.44 L79.24 92.17 L79.70 91.89 L80.17 91.61 L80.66 91.33 L81.17 91.03 L81.71 90.71 L82.28 90.37 L82.90 90.00 L84.11 89.27 L85.49 88.40 L87.01 87.44 L88.61 86.42 L90.27 85.38 L91.95 84.34 L93.60 83.35 L95.18 82.44 L96.66 81.65 L98.00 81.00 L98.77 80.67 L99.48 80.39 L100.14 80.16 L100.78 79.96 L101.41 79.78 L102.04 79.61 L102.70 79.44 L103.40 79.25 L104.16 79.04 L105.00 78.80 L106.55 78.33 L108.23 77.83 L110.02 77.29 L111.92 76.73 L113.91 76.15 L116.00 75.55 L118.16 74.94 L120.38 74.32 L122.67 73.71 L125.00 73.10 L128.44 72.24 L132.11 71.36 L135.98 70.46 L140.00 69.55 L144.13 68.62 L148.33 67.69 L152.56 66.76 L156.78 65.83 L160.94 64.91 L165.00 64.00 L169.03 63.08 L173.12 62.13 L177.24 61.16 L181.37 60.19 L185.48 59.23 L189.55 58.29 L193.56 57.38 L197.49 56.53 L201.31 55.73 L205.00 55.00 L207.95 54.50 L210.87 54.09 L213.75 53.74 L216.59 53.44 L219.38 53.14 L222.09 52.82 L224.72 52.46 L227.25 52.02 L229.68 51.48 L232.00 50.80 L233.81 50.19 L235.65 49.53 L237.50 48.84 L239.30 48.10 L241.02 47.32 L242.61 46.50 L244.05 45.64 L245.29 44.74 L246.28 43.79 L247.00 42.80 L247.30 42.09 L247.46 41.35 L247.49 40.58 L247.43 39.78 L247.29 38.97 L247.12 38.16 L246.92 37.33 L246.74 36.51 L246.59 35.70 L246.50 34.90" stroke="#eded1e" stroke-width="1.45"/>
<path d="M246.50 34.90 L245.40 34.20" stroke="#eded1e" stroke-width="1.45"/>
<path d="M60.60 245.50 L60.62 235.61 L60.62 225.19 L60.63 214.48 L60.63 203.68 L60.64 193.04 L60.65 182.77 L60.67 173.11 L60.70 164.28 L60.74 156.50 L60.80 150.00 L60.83 147.58 L60.87 145.32 L60.91 143.22 L60.95 141.26 L60.99 139.44 L61.03 137.75 L61.08 136.17 L61.12 134.69 L61.16 133.30 L61.20 132.00 L61.22 131.34 L61.23 130.74 L61.24 130.18 L61.24 129.66 L61.25 129.16 L61.27 128.68 L61.29 128.20 L61.31 127.72 L61.35 127.22 L61.40 126.70 L61.46 126.15 L61.52 125.60 L61.59 125.06 L61.67 124.51 L61.75 123.97 L61.85 123.41 L61.96 122.85 L62.09 122.28 L62.23 121.70 L62.40 121.10 L62.64 120.31 L62.90 119.49 L63.18 118.64 L63.48 117.78 L63.82 116.90 L64.18 116.02 L64.56 115.15 L64.98 114.28 L65.42 113.43 L65.90 112.60 L66.48 111.70 L67.12 110.79 L67.81 109.88 L68.54 108.97 L69.29 108.08 L70.06 107.21 L70.82 106.37 L71.58 105.56 L72.31 104.80 L73.00 104.10 L73.49 103.61 L73.97 103.14 L74.44 102.70 L74.90 102.28 L75.36 101.88 L75.82 101.49 L76.29 101.11 L76.77 100.74 L77.28 100.37 L77.80 100.00 L78.39 99.61 L78.99 99.24 L79.61 98.90 L80.25 98.56 L80.89 98.23 L81.55 97.89 L82.22 97.55 L82.90 97.19 L83.60 96.81 L84.30 96.40 L85.23 95.83 L86.23 95.20 L87.28 94.53 L88.34 93.84 L89.42 93.14 L90.48 92.44 L91.51 91.76 L92.49 91.11 L93.39 90.52 L94.20 90.00 L94.65 89.71 L95.05 89.44 L95.43 89.19 L95.78 88.95 L96.13 88.72 L96.47 88.50 L96.82 88.28 L97.18 88.06 L97.57 87.83 L98.00 87.60 L98.59 87.30 L99.19 87.00 L99.82 86.72 L100.46 86.43 L101.13 86.14 L101.83 85.85 L102.56 85.54 L103.33 85.22 L104.14 84.87 L105.00 84.50 L106.55 83.80 L108.22 83.02 L110.00 82.18 L111.89 81.28 L113.88 80.36 L115.96 79.42 L118.12 78.47 L120.35 77.54 L122.64 76.65 L125.00 75.80 L128.43 74.69 L132.12 73.61 L136.02 72.56 L140.09 71.52 L144.27 70.51 L148.50 69.50 L152.74 68.50 L156.94 67.50 L161.04 66.51 L165.00 65.50 L168.62 64.55 L172.25 63.60 L175.87 62.65 L179.47 61.70 L183.03 60.76 L186.56 59.83 L190.03 58.90 L193.43 57.99 L196.76 57.09 L200.00 56.20 L202.68 55.47 L205.34 54.75 L207.96 54.04 L210.55 53.34 L213.09 52.65 L215.56 51.96 L217.97 51.27 L220.30 50.59 L222.55 49.90 L224.70 49.20 L226.30 48.68 L227.89 48.19 L229.46 47.71 L231.00 47.24 L232.48 46.75 L233.90 46.25 L235.22 45.73 L236.44 45.17 L237.54 44.56 L238.50 43.90 L239.06 43.43 L239.57 42.92 L240.03 42.40 L240.45 41.86 L240.83 41.31 L241.17 40.75 L241.47 40.20 L241.74 39.65 L241.98 39.12 L242.20 38.60 L242.34 38.22 L242.44 37.84 L242.52 37.47 L242.58 37.10 L242.62 36.73 L242.65 36.37 L242.68 36.00 L242.71 35.64 L242.75 35.27 L242.80 34.90" stroke="#8a8a30" stroke-width="1.45"/>
<path d="M60.40 245.50 L60.35 237.75 L60.29 229.68 L60.22 221.43 L60.15 213.13 L60.08 204.93 L60.02 196.95 L59.98 189.33 L59.95 182.21 L59.96 175.72 L60.00 170.00 L60.03 167.22 L60.07 164.59 L60.12 162.10 L60.17 159.74 L60.22 157.51 L60.28 155.40 L60.35 153.40 L60.43 151.51 L60.51 149.71 L60.60 148.00 L60.66 147.02 L60.72 146.12 L60.78 145.27 L60.85 144.47 L60.92 143.70 L60.99 142.94 L61.06 142.19 L61.14 141.42 L61.22 140.63 L61.30 139.80 L61.39 138.84 L61.47 137.86 L61.55 136.84 L61.64 135.82 L61.72 134.80 L61.82 133.78 L61.94 132.78 L62.07 131.81 L62.22 130.88 L62.40 130.00 L62.56 129.32 L62.73 128.68 L62.90 128.05 L63.09 127.45 L63.29 126.86 L63.50 126.27 L63.72 125.69 L63.96 125.10 L64.22 124.51 L64.50 123.90 L64.83 123.21 L65.18 122.51 L65.56 121.81 L65.95 121.10 L66.36 120.40 L66.79 119.70 L67.24 119.00 L67.71 118.29 L68.19 117.60 L68.70 116.90 L69.30 116.11 L69.93 115.31 L70.58 114.51 L71.26 113.71 L71.97 112.92 L72.69 112.13 L73.44 111.35 L74.21 110.58 L75.00 109.83 L75.80 109.10 L76.69 108.34 L77.62 107.59 L78.57 106.87 L79.55 106.16 L80.55 105.46 L81.57 104.77 L82.59 104.08 L83.63 103.39 L84.67 102.70 L85.70 102.00 L86.80 101.26 L87.93 100.51 L89.08 99.76 L90.25 99.01 L91.41 98.26 L92.58 97.52 L93.72 96.79 L94.85 96.08 L95.95 95.38 L97.00 94.70 L97.84 94.15 L98.62 93.62 L99.38 93.11 L100.11 92.61 L100.84 92.11 L101.58 91.61 L102.35 91.11 L103.17 90.59 L104.04 90.06 L105.00 89.50 L106.58 88.60 L108.27 87.66 L110.06 86.67 L111.95 85.67 L113.93 84.64 L115.99 83.61 L118.13 82.58 L120.35 81.56 L122.64 80.56 L125.00 79.60 L128.42 78.33 L132.11 77.10 L136.02 75.90 L140.09 74.72 L144.28 73.55 L148.52 72.37 L152.76 71.19 L156.96 70.00 L161.06 68.77 L165.00 67.50 L168.66 66.24 L172.36 64.93 L176.06 63.57 L179.74 62.20 L183.38 60.82 L186.95 59.46 L190.42 58.14 L193.77 56.88 L196.97 55.69 L200.00 54.60 L202.06 53.89 L204.07 53.24 L206.01 52.63 L207.90 52.06 L209.73 51.50 L211.50 50.94 L213.21 50.38 L214.87 49.79 L216.46 49.17 L218.00 48.50 L219.18 47.94 L220.34 47.37 L221.47 46.78 L222.57 46.18 L223.63 45.58 L224.64 44.96 L225.59 44.34 L226.48 43.73 L227.28 43.11 L228.00 42.50 L228.41 42.09 L228.77 41.68 L229.10 41.25 L229.39 40.82 L229.66 40.40 L229.91 39.98 L230.16 39.58 L230.42 39.19 L230.70 38.83 L231.00 38.50 L231.26 38.25 L231.53 38.03 L231.79 37.82 L232.06 37.62 L232.34 37.43 L232.61 37.24 L232.88 37.06 L233.16 36.88 L233.43 36.69 L233.70 36.50" stroke="#2c2c8c" stroke-width="1.45"/>
<path d="M233.70 36.50 L232.00 39.00" stroke="#2c2c8c" stroke-width="1.45"/>
<path d="M60.20 245.50 L60.17 237.75 L60.13 229.68 L60.07 221.43 L60.02 213.13 L59.96 204.93 L59.92 196.95 L59.90 189.33 L59.90 182.21 L59.93 175.72 L60.00 170.00 L60.05 167.22 L60.10 164.59 L60.16 162.10 L60.22 159.74 L60.30 157.51 L60.38 155.40 L60.46 153.40 L60.56 151.51 L60.68 149.71 L60.80 148.00 L60.88 147.02 L60.96 146.11 L61.05 145.27 L61.13 144.46 L61.23 143.69 L61.33 142.94 L61.43 142.18 L61.54 141.42 L61.67 140.63 L61.80 139.80 L61.95 138.85 L62.11 137.88 L62.28 136.90 L62.46 135.90 L62.64 134.91 L62.84 133.91 L63.05 132.91 L63.28 131.93 L63.53 130.96 L63.80 130.00 L64.07 129.08 L64.35 128.16 L64.64 127.25 L64.95 126.35 L65.27 125.45 L65.61 124.56 L65.98 123.68 L66.38 122.81 L66.82 121.95 L67.30 121.10 L67.86 120.20 L68.46 119.30 L69.10 118.41 L69.78 117.54 L70.49 116.67 L71.23 115.82 L71.99 114.99 L72.78 114.17 L73.58 113.38 L74.40 112.60 L75.28 111.81 L76.20 111.06 L77.14 110.33 L78.11 109.63 L79.10 108.94 L80.11 108.25 L81.14 107.57 L82.18 106.89 L83.24 106.20 L84.30 105.50 L85.51 104.70 L86.77 103.89 L88.07 103.06 L89.38 102.23 L90.71 101.41 L92.04 100.60 L93.34 99.80 L94.61 99.03 L95.84 98.30 L97.00 97.60 L97.85 97.09 L98.65 96.62 L99.41 96.17 L100.15 95.74 L100.88 95.32 L101.62 94.89 L102.38 94.46 L103.19 94.01 L104.06 93.52 L105.00 93.00 L106.60 92.10 L108.29 91.13 L110.08 90.10 L111.97 89.03 L113.94 87.92 L116.00 86.79 L118.13 85.66 L120.35 84.54 L122.64 83.45 L125.00 82.40 L128.42 81.02 L132.11 79.68 L136.03 78.37 L140.10 77.08 L144.29 75.79 L148.53 74.49 L152.78 73.18 L156.98 71.83 L161.07 70.44 L165.00 69.00 L168.70 67.52 L172.47 65.91 L176.28 64.22 L180.07 62.48 L183.79 60.76 L187.42 59.08 L190.90 57.51 L194.18 56.07 L197.23 54.82 L200.00 53.80 L201.43 53.35 L202.76 52.99 L204.01 52.69 L205.20 52.45 L206.34 52.23 L207.45 52.02 L208.56 51.79 L209.67 51.53 L210.81 51.20 L212.00 50.80 L213.41 50.27 L214.90 49.69 L216.45 49.06 L218.00 48.40 L219.54 47.70 L221.03 46.97 L222.43 46.22 L223.72 45.45 L224.85 44.68 L225.80 43.90 L226.30 43.39 L226.75 42.86 L227.14 42.31 L227.49 41.75 L227.80 41.19 L228.07 40.63 L228.33 40.09 L228.56 39.56 L228.78 39.06 L229.00 38.60 L229.14 38.31 L229.26 38.03 L229.37 37.76 L229.47 37.50 L229.56 37.25 L229.64 37.00 L229.73 36.76 L229.81 36.51 L229.90 36.26 L230.00 36.00" stroke="#8a34a8" stroke-width="1.45"/>
<path d="M230.00 36.00 L231.60 35.60 L230.60 39.70" stroke="#8a34a8" stroke-width="1.45"/>
</g>
<path d="M157.8 45.6 L83 45.6" stroke="#444" stroke-width="1.5" fill="none"/>
<path d="M80.5 45.6 L84.5 43.9 L84.5 47.3 Z" fill="#444"/>
<ellipse cx="174.3" cy="55.4" rx="10" ry="26" fill="none" stroke="#333" stroke-width="1.4" transform="rotate(3 174.3 55.4)"/>
<g stroke="#4a4a4a" stroke-width="1.6" fill="none">
<path d="M59.5 21.3 L329.5 21.3 L329.5 246.0" stroke-width="1.35"/>
<path d="M59.5 21.3 L59.5 246.0 L329.5 246.0"/>
<path d="M55.5 246.00 L59.5 246.00"/>
<path d="M57.0 229.95 L59.5 229.95"/>
<path d="M55.5 213.90 L59.5 213.90"/>
<path d="M57.0 197.85 L59.5 197.85"/>
<path d="M55.5 181.80 L59.5 181.80"/>
<path d="M57.0 165.75 L59.5 165.75"/>
<path d="M55.5 149.70 L59.5 149.70"/>
<path d="M57.0 133.65 L59.5 133.65"/>
<path d="M55.5 117.60 L59.5 117.60"/>
<path d="M57.0 101.55 L59.5 101.55"/>
<path d="M55.5 85.50 L59.5 85.50"/>
<path d="M57.0 69.45 L59.5 69.45"/>
<path d="M55.5 53.40 L59.5 53.40"/>
<path d="M57.0 37.35 L59.5 37.35"/>
<path d="M55.5 21.30 L59.5 21.30"/>
<path d="M329.5 246.00 L333.5 246.00"/>
<path d="M329.5 227.28 L332.0 227.28"/>
<path d="M329.5 208.55 L333.5 208.55"/>
<path d="M329.5 189.83 L332.0 189.83"/>
<path d="M329.5 171.10 L333.5 171.10"/>
<path d="M329.5 152.38 L332.0 152.38"/>
<path d="M329.5 133.65 L333.5 133.65"/>
<path d="M329.5 114.93 L332.0 114.93"/>
<path d="M329.5 96.20 L333.5 96.20"/>
<path d="M329.5 77.47 L332.0 77.47"/>
<path d="M329.5 58.75 L333.5 58.75"/>
<path d="M329.5 40.03 L332.0 40.03"/>
<path d="M329.5 21.30 L333.5 21.30"/>
<path d="M59.50 246.0 L59.50 250.0"/>
<path d="M86.50 246.0 L86.50 248.5"/>
<path d="M113.50 246.0 L113.50 250.0"/>
<path d="M140.50 246.0 L140.50 248.5"/>
<path d="M167.50 246.0 L167.50 250.0"/>
<path d="M194.50 246.0 L194.50 248.5"/>
<path d="M221.50 246.0 L221.50 250.0"/>
<path d="M248.50 246.0 L248.50 248.5"/>
<path d="M275.50 246.0 L275.50 250.0"/>
<path d="M302.50 246.0 L302.50 248.5"/>
<path d="M329.50 246.0 L329.50 250.0"/>
</g>
<g fill="none" stroke-linejoin="round" stroke-linecap="round">
<path d="M458.4 243.6 L571 243.6" stroke="#7a2a90" stroke-width="2.4"/>
<path d="M473.00 243.00 L473.50 238.69 L473.99 234.37 L474.48 230.05 L474.97 225.72 L475.46 221.40 L475.95 217.08 L476.45 212.78 L476.95 208.50 L477.47 204.23 L478.00 200.00 L478.51 195.91 L479.01 191.81 L479.50 187.70 L480.00 183.60 L480.50 179.52 L481.03 175.49 L481.59 171.50 L482.18 167.59 L482.81 163.75 L483.50 160.00 L484.14 156.81 L484.80 153.69 L485.48 150.64 L486.19 147.65 L486.93 144.68 L487.69 141.75 L488.48 138.83 L489.29 135.90 L490.13 132.96 L491.00 130.00 L491.92 126.95 L492.88 123.84 L493.87 120.70 L494.90 117.56 L495.94 114.45 L497.01 111.37 L498.08 108.36 L499.16 105.45 L500.23 102.65 L501.30 100.00 L502.11 97.99 L502.90 96.02 L503.68 94.08 L504.45 92.20 L505.24 90.37 L506.05 88.61 L506.90 86.92 L507.80 85.32 L508.76 83.81 L509.80 82.40 L510.73 81.33 L511.71 80.37 L512.72 79.49 L513.78 78.68 L514.86 77.91 L515.96 77.15 L517.07 76.40 L518.19 75.62 L519.30 74.79 L520.40 73.90 L521.65 72.81 L522.92 71.67 L524.22 70.48 L525.53 69.26 L526.84 68.04 L528.15 66.82 L529.43 65.62 L530.69 64.45 L531.92 63.34 L533.10 62.30 L534.01 61.49 L534.90 60.68 L535.77 59.87 L536.62 59.08 L537.46 58.32 L538.29 57.59 L539.11 56.92 L539.94 56.30 L540.77 55.76 L541.60 55.30 L542.23 55.01 L542.83 54.78 L543.42 54.59 L544.00 54.44 L544.59 54.32 L545.19 54.21 L545.82 54.12 L546.49 54.02 L547.22 53.92 L548.00 53.80 L549.49 53.57 L551.14 53.36 L552.92 53.15 L554.82 52.96 L556.81 52.77 L558.86 52.59 L560.97 52.43 L563.11 52.27 L565.26 52.13 L567.40 52.00 L570.08 51.84 L572.96 51.68 L575.98 51.52 L579.08 51.37 L582.18 51.25 L585.24 51.16 L588.18 51.10 L590.95 51.11 L593.47 51.17 L595.70 51.30 L596.82 51.41 L597.82 51.55 L598.74 51.70 L599.59 51.88 L600.41 52.07 L601.23 52.26 L602.07 52.47 L602.96 52.68 L603.92 52.89 L605.00 53.10 L606.86 53.43 L608.87 53.79 L610.99 54.16 L613.23 54.54 L615.56 54.93 L617.96 55.34 L620.42 55.75 L622.93 56.16 L625.46 56.58 L628.00 57.00 L631.26 57.52 L634.75 58.05 L638.39 58.59 L642.12 59.14 L645.89 59.70 L649.62 60.26 L653.27 60.84 L656.75 61.42 L660.02 62.00 L663.00 62.60 L664.88 63.02 L666.65 63.44 L668.33 63.86 L669.94 64.29 L671.50 64.73 L673.03 65.16 L674.54 65.60 L676.06 66.03 L677.61 66.47 L679.20 66.90" stroke="#333333" stroke-width="1.45"/>
<path d="M679.20 66.90 L673.00 68.20" stroke="#333333" stroke-width="1.45"/>
<path d="M472.00 243.00 L472.50 238.69 L472.99 234.37 L473.48 230.05 L473.97 225.72 L474.46 221.40 L474.95 217.08 L475.45 212.78 L475.95 208.50 L476.47 204.23 L477.00 200.00 L477.52 195.95 L478.03 191.93 L478.55 187.94 L479.07 183.96 L479.61 180.00 L480.15 176.03 L480.71 172.06 L481.28 168.07 L481.88 164.05 L482.50 160.00 L483.17 155.64 L483.85 151.11 L484.54 146.47 L485.26 141.80 L485.99 137.15 L486.74 132.60 L487.52 128.21 L488.32 124.05 L489.15 120.19 L490.00 116.70 L490.54 114.70 L491.07 112.87 L491.60 111.17 L492.13 109.56 L492.68 108.02 L493.26 106.50 L493.87 104.97 L494.52 103.40 L495.23 101.76 L496.00 100.00 L497.11 97.55 L498.33 94.93 L499.66 92.19 L501.05 89.38 L502.51 86.55 L503.99 83.76 L505.49 81.05 L506.97 78.47 L508.41 76.07 L509.80 73.90 L510.74 72.49 L511.66 71.15 L512.55 69.87 L513.44 68.65 L514.33 67.49 L515.24 66.38 L516.18 65.31 L517.16 64.28 L518.20 63.28 L519.30 62.30 L520.51 61.32 L521.78 60.37 L523.09 59.46 L524.46 58.60 L525.85 57.77 L527.28 56.99 L528.72 56.26 L530.18 55.58 L531.64 54.96 L533.10 54.40 L534.53 53.92 L535.99 53.52 L537.46 53.19 L538.95 52.90 L540.45 52.66 L541.95 52.45 L543.47 52.26 L544.98 52.08 L546.49 51.89 L548.00 51.70 L549.49 51.50 L550.96 51.31 L552.42 51.12 L553.87 50.95 L555.34 50.80 L556.83 50.66 L558.34 50.54 L559.91 50.44 L561.52 50.36 L563.20 50.30 L565.50 50.27 L567.95 50.28 L570.52 50.32 L573.16 50.41 L575.84 50.52 L578.53 50.65 L581.19 50.80 L583.77 50.96 L586.26 51.13 L588.60 51.30 L590.37 51.44 L592.07 51.58 L593.70 51.73 L595.29 51.89 L596.85 52.06 L598.41 52.24 L599.99 52.43 L601.60 52.64 L603.26 52.86 L605.00 53.10 L607.15 53.41 L609.33 53.75 L611.54 54.11 L613.80 54.49 L616.10 54.89 L618.44 55.31 L620.83 55.73 L623.27 56.15 L625.76 56.58 L628.30 57.00 L631.61 57.52 L635.17 58.04 L638.89 58.57 L642.72 59.10 L646.56 59.65 L650.36 60.21 L654.04 60.78 L657.52 61.37 L660.73 61.97 L663.60 62.60 L665.21 63.01 L666.71 63.42 L668.12 63.85 L669.45 64.28 L670.72 64.71 L671.96 65.15 L673.19 65.59 L674.43 66.03 L675.69 66.47 L677.00 66.90" stroke="#ee3a3a" stroke-width="1.45"/>
<path d="M677.00 66.90 L671.50 69.20" stroke="#ee3a3a" stroke-width="1.45"/>
<path d="M471.50 243.00 L472.05 238.69 L472.60 234.37 L473.14 230.05 L473.69 225.72 L474.24 221.40 L474.79 217.09 L475.34 212.78 L475.89 208.50 L476.44 204.24 L477.00 200.00 L477.53 195.91 L478.04 191.81 L478.53 187.70 L479.03 183.60 L479.53 179.53 L480.06 175.49 L480.60 171.51 L481.19 167.59 L481.82 163.75 L482.50 160.00 L483.14 156.81 L483.81 153.70 L484.51 150.65 L485.24 147.65 L485.99 144.69 L486.76 141.76 L487.55 138.84 L488.36 135.91 L489.17 132.97 L490.00 130.00 L490.84 126.95 L491.69 123.84 L492.54 120.71 L493.42 117.56 L494.31 114.43 L495.22 111.35 L496.17 108.34 L497.14 105.43 L498.15 102.64 L499.20 100.00 L500.07 97.99 L500.99 96.06 L501.93 94.18 L502.89 92.37 L503.86 90.60 L504.85 88.89 L505.83 87.22 L506.80 85.58 L507.76 83.98 L508.70 82.40 L509.46 81.07 L510.19 79.72 L510.92 78.37 L511.64 77.03 L512.35 75.74 L513.08 74.51 L513.82 73.37 L514.58 72.34 L515.37 71.44 L516.20 70.70 L516.79 70.30 L517.38 70.01 L517.99 69.79 L518.60 69.64 L519.23 69.51 L519.86 69.40 L520.50 69.27 L521.16 69.11 L521.82 68.90 L522.50 68.60 L523.48 68.06 L524.50 67.41 L525.55 66.68 L526.62 65.89 L527.71 65.06 L528.81 64.22 L529.91 63.39 L530.99 62.59 L532.06 61.85 L533.10 61.20 L533.98 60.69 L534.85 60.18 L535.72 59.70 L536.58 59.23 L537.44 58.78 L538.29 58.36 L539.13 57.97 L539.96 57.61 L540.79 57.28 L541.60 57.00 L542.25 56.81 L542.88 56.65 L543.50 56.54 L544.10 56.44 L544.71 56.36 L545.32 56.29 L545.95 56.22 L546.60 56.13 L547.28 56.03 L548.00 55.90 L549.05 55.67 L550.15 55.38 L551.29 55.07 L552.47 54.74 L553.68 54.40 L554.94 54.07 L556.23 53.76 L557.55 53.48 L558.91 53.26 L560.30 53.10 L562.18 52.99 L564.14 52.96 L566.19 53.01 L568.30 53.11 L570.46 53.25 L572.66 53.43 L574.87 53.61 L577.10 53.80 L579.31 53.96 L581.50 54.10 L583.80 54.21 L586.13 54.31 L588.47 54.40 L590.83 54.50 L593.19 54.60 L595.56 54.72 L597.93 54.86 L600.30 55.03 L602.66 55.24 L605.00 55.50 L607.33 55.82 L609.64 56.20 L611.94 56.63 L614.23 57.09 L616.52 57.57 L618.82 58.06 L621.14 58.54 L623.49 59.00 L625.88 59.42 L628.30 59.80 L631.05 60.12 L633.93 60.35 L636.89 60.52 L639.89 60.65 L642.89 60.79 L645.86 60.96 L648.74 61.19 L651.50 61.52 L654.10 61.98 L656.50 62.60 L658.17 63.18 L659.73 63.85 L661.21 64.58 L662.62 65.37 L663.98 66.19 L665.31 67.05 L666.63 67.91 L667.96 68.76 L669.31 69.60 L670.70 70.40" stroke="#6cbf4a" stroke-width="1.45"/>
<path d="M670.70 70.40 L666.50 69.20" stroke="#6cbf4a" stroke-width="1.45"/>
<path d="M474.00 243.00 L474.70 238.69 L475.39 234.37 L476.08 230.05 L476.76 225.72 L477.45 221.40 L478.14 217.08 L478.84 212.78 L479.55 208.49 L480.27 204.23 L481.00 200.00 L481.71 195.93 L482.41 191.88 L483.11 187.84 L483.82 183.81 L484.53 179.81 L485.27 175.81 L486.02 171.84 L486.81 167.88 L487.64 163.93 L488.50 160.00 L489.38 156.13 L490.30 152.22 L491.25 148.29 L492.22 144.36 L493.22 140.46 L494.24 136.63 L495.28 132.88 L496.34 129.24 L497.41 125.74 L498.50 122.40 L499.37 119.88 L500.25 117.42 L501.14 115.03 L502.04 112.71 L502.96 110.45 L503.88 108.25 L504.82 106.11 L505.77 104.02 L506.73 101.99 L507.70 100.00 L508.52 98.37 L509.36 96.75 L510.21 95.15 L511.08 93.59 L511.95 92.08 L512.81 90.62 L513.68 89.23 L514.53 87.92 L515.37 86.71 L516.20 85.60 L516.73 84.94 L517.25 84.35 L517.76 83.81 L518.26 83.32 L518.76 82.85 L519.26 82.38 L519.79 81.91 L520.33 81.42 L520.90 80.89 L521.50 80.30 L522.39 79.37 L523.32 78.34 L524.28 77.25 L525.28 76.11 L526.31 74.95 L527.39 73.79 L528.50 72.67 L529.66 71.59 L530.86 70.60 L532.10 69.70 L533.49 68.85 L534.96 68.06 L536.49 67.35 L538.07 66.68 L539.69 66.06 L541.34 65.48 L543.01 64.92 L544.68 64.38 L546.35 63.84 L548.00 63.30 L549.69 62.73 L551.40 62.14 L553.12 61.56 L554.86 60.99 L556.61 60.45 L558.35 59.95 L560.10 59.51 L561.84 59.15 L563.58 58.87 L565.30 58.70 L566.94 58.66 L568.58 58.74 L570.21 58.92 L571.85 59.17 L573.48 59.46 L575.11 59.77 L576.72 60.08 L578.33 60.35 L579.92 60.57 L581.50 60.70 L582.97 60.74 L584.45 60.74 L585.92 60.69 L587.39 60.62 L588.85 60.53 L590.28 60.45 L591.69 60.38 L593.07 60.34 L594.41 60.34 L595.70 60.40 L596.69 60.48 L597.62 60.59 L598.51 60.72 L599.36 60.86 L600.21 61.02 L601.07 61.19 L601.96 61.36 L602.90 61.54 L603.91 61.72 L605.00 61.90 L606.88 62.17 L608.92 62.44 L611.08 62.71 L613.36 62.99 L615.73 63.29 L618.17 63.62 L620.67 63.99 L623.20 64.40 L625.75 64.87 L628.30 65.40 L631.51 66.17 L634.83 67.05 L638.24 68.03 L641.72 69.08 L645.25 70.18 L648.81 71.32 L652.39 72.47 L655.96 73.61 L659.50 74.73 L663.00 75.80" stroke="#4a62c4" stroke-width="1.45"/>
<path d="M663.00 75.80 L660.80 82.20" stroke="#4a62c4" stroke-width="1.45"/>
<path d="M481.00 243.00 L481.90 239.16 L482.79 235.26 L483.69 231.32 L484.58 227.37 L485.48 223.44 L486.37 219.55 L487.27 215.74 L488.18 212.03 L489.08 208.44 L490.00 205.00 L490.74 202.36 L491.47 199.80 L492.20 197.32 L492.93 194.90 L493.67 192.52 L494.42 190.19 L495.17 187.88 L495.93 185.59 L496.71 183.30 L497.50 181.00 L498.25 178.85 L499.00 176.75 L499.76 174.68 L500.52 172.63 L501.29 170.60 L502.08 168.55 L502.89 166.48 L503.72 164.38 L504.59 162.22 L505.50 160.00 L506.62 157.23 L507.76 154.31 L508.94 151.30 L510.15 148.23 L511.40 145.14 L512.69 142.07 L514.02 139.07 L515.40 136.18 L516.82 133.45 L518.30 130.90 L519.59 128.89 L520.95 126.94 L522.37 125.03 L523.82 123.20 L525.29 121.43 L526.76 119.74 L528.23 118.14 L529.67 116.62 L531.06 115.21 L532.40 113.90 L533.30 113.06 L534.17 112.28 L535.03 111.55 L535.87 110.87 L536.70 110.23 L537.54 109.62 L538.38 109.03 L539.23 108.45 L540.10 107.88 L541.00 107.30 L541.91 106.72 L542.84 106.15 L543.77 105.60 L544.71 105.06 L545.66 104.54 L546.62 104.04 L547.60 103.55 L548.58 103.08 L549.58 102.63 L550.60 102.20 L551.67 101.78 L552.74 101.39 L553.82 101.04 L554.91 100.70 L556.02 100.38 L557.15 100.07 L558.31 99.76 L559.50 99.45 L560.73 99.13 L562.00 98.80 L563.71 98.36 L565.50 97.93 L567.36 97.49 L569.27 97.05 L571.22 96.62 L573.21 96.18 L575.21 95.74 L577.22 95.30 L579.22 94.85 L581.20 94.40 L583.29 93.91 L585.41 93.38 L587.55 92.84 L589.71 92.30 L591.87 91.76 L594.02 91.23 L596.16 90.73 L598.28 90.27 L600.36 89.85 L602.40 89.50 L604.17 89.22 L605.93 88.97 L607.66 88.73 L609.38 88.52 L611.08 88.33 L612.77 88.19 L614.44 88.07 L616.11 88.00 L617.76 87.98 L619.40 88.00 L620.92 88.07 L622.43 88.18 L623.93 88.33 L625.41 88.52 L626.88 88.74 L628.35 88.99 L629.81 89.26 L631.27 89.56 L632.74 89.87 L634.20 90.20 L635.71 90.56 L637.25 90.95 L638.80 91.37 L640.35 91.82 L641.89 92.29 L643.41 92.77 L644.89 93.27 L646.33 93.78 L647.70 94.29 L649.00 94.80 L649.96 95.21 L650.87 95.62 L651.75 96.05 L652.60 96.48 L653.42 96.91 L654.23 97.35 L655.04 97.79 L655.84 98.23 L656.66 98.67 L657.50 99.10" stroke="#5ccbe2" stroke-width="1.45"/>
<path d="M657.50 99.10 L654.00 101.50" stroke="#5ccbe2" stroke-width="1.45"/>
<path d="M493.00 243.00 L493.99 240.50 L494.98 238.00 L495.96 235.51 L496.94 233.01 L497.92 230.52 L498.90 228.02 L499.90 225.52 L500.91 223.02 L501.95 220.51 L503.00 218.00 L504.09 215.40 L505.16 212.76 L506.22 210.11 L507.30 207.46 L508.40 204.80 L509.54 202.17 L510.72 199.56 L511.97 196.99 L513.29 194.46 L514.70 192.00 L516.21 189.58 L517.81 187.20 L519.48 184.84 L521.22 182.52 L523.00 180.23 L524.82 177.99 L526.67 175.78 L528.52 173.61 L530.37 171.48 L532.20 169.40 L533.89 167.50 L535.56 165.61 L537.25 163.76 L538.94 161.94 L540.65 160.15 L542.38 158.41 L544.14 156.72 L545.95 155.09 L547.80 153.51 L549.70 152.00 L551.66 150.57 L553.70 149.19 L555.80 147.86 L557.94 146.58 L560.11 145.35 L562.28 144.18 L564.44 143.05 L566.55 141.98 L568.61 140.96 L570.60 140.00 L572.16 139.26 L573.70 138.57 L575.21 137.92 L576.70 137.31 L578.18 136.73 L579.64 136.17 L581.09 135.63 L582.53 135.11 L583.96 134.60 L585.40 134.10 L586.69 133.64 L587.94 133.19 L589.16 132.75 L590.37 132.32 L591.58 131.91 L592.81 131.51 L594.08 131.14 L595.38 130.80 L596.75 130.48 L598.20 130.20 L600.25 129.88 L602.43 129.60 L604.73 129.38 L607.11 129.21 L609.54 129.07 L612.00 128.97 L614.45 128.89 L616.87 128.84 L619.23 128.81 L621.50 128.80 L623.51 128.80 L625.52 128.83 L627.52 128.88 L629.51 128.95 L631.47 129.05 L633.40 129.16 L635.29 129.29 L637.12 129.45 L638.89 129.61 L640.60 129.80 L641.88 129.96 L643.11 130.15 L644.30 130.34 L645.46 130.56 L646.59 130.78 L647.70 131.00 L648.81 131.23 L649.93 131.46 L651.05 131.68 L652.20 131.90" stroke="#cc48a8" stroke-width="1.45"/>
<path d="M515.60 243.00 L516.33 242.02 L517.05 241.08 L517.76 240.16 L518.47 239.24 L519.18 238.31 L519.90 237.36 L520.64 236.37 L521.40 235.32 L522.18 234.20 L523.00 233.00 L524.33 230.91 L525.76 228.52 L527.26 225.92 L528.82 223.16 L530.40 220.35 L531.99 217.54 L533.57 214.83 L535.11 212.28 L536.60 209.98 L538.00 208.00 L538.84 206.92 L539.66 205.95 L540.46 205.06 L541.24 204.23 L542.01 203.45 L542.79 202.69 L543.57 201.94 L544.36 201.16 L545.17 200.36 L546.00 199.50 L546.94 198.48 L547.88 197.43 L548.82 196.35 L549.77 195.26 L550.74 194.17 L551.72 193.08 L552.74 192.01 L553.78 190.96 L554.87 189.96 L556.00 189.00 L557.25 188.04 L558.53 187.11 L559.85 186.22 L561.20 185.36 L562.59 184.52 L564.01 183.70 L565.46 182.90 L566.95 182.10 L568.46 181.30 L570.00 180.50 L571.84 179.57 L573.74 178.66 L575.71 177.75 L577.73 176.85 L579.78 175.97 L581.84 175.10 L583.91 174.25 L585.97 173.41 L588.00 172.60 L590.00 171.80 L591.84 171.05 L593.62 170.29 L595.38 169.53 L597.11 168.79 L598.86 168.06 L600.64 167.37 L602.47 166.72 L604.38 166.12 L606.38 165.58 L608.50 165.10 L611.54 164.59 L614.78 164.23 L618.18 163.98 L621.72 163.82 L625.35 163.73 L629.05 163.68 L632.76 163.65 L636.47 163.61 L640.13 163.53 L643.70 163.40" stroke="#eded1e" stroke-width="1.45"/>
<path d="M538.00 243.00 L539.02 241.52 L540.02 240.03 L541.00 238.54 L541.98 237.06 L542.97 235.57 L543.97 234.08 L545.00 232.60 L546.08 231.13 L547.21 229.66 L548.40 228.20 L549.80 226.55 L551.23 224.88 L552.72 223.20 L554.25 221.52 L555.83 219.85 L557.45 218.21 L559.13 216.61 L560.87 215.07 L562.65 213.59 L564.50 212.20 L566.55 210.81 L568.69 209.49 L570.91 208.23 L573.20 207.04 L575.53 205.89 L577.90 204.79 L580.29 203.73 L582.68 202.70 L585.06 201.69 L587.40 200.70 L589.68 199.74 L591.97 198.78 L594.27 197.83 L596.58 196.92 L598.90 196.04 L601.22 195.22 L603.53 194.45 L605.83 193.75 L608.12 193.13 L610.40 192.60 L612.54 192.16 L614.74 191.75 L616.99 191.37 L619.24 191.04 L621.47 190.78 L623.63 190.59 L625.70 190.51 L627.64 190.54 L629.42 190.70 L631.00 191.00 L631.89 191.28 L632.70 191.64 L633.45 192.06 L634.14 192.53 L634.80 193.03 L635.43 193.55 L636.05 194.08 L636.68 194.61 L637.32 195.12 L638.00 195.60" stroke="#8a8a30" stroke-width="1.45"/>
<path d="M559.90 243.00 L561.49 241.73 L563.08 240.43 L564.66 239.12 L566.25 237.80 L567.83 236.49 L569.42 235.20 L571.02 233.95 L572.63 232.74 L574.25 231.58 L575.90 230.50 L577.47 229.54 L579.07 228.62 L580.68 227.74 L582.31 226.89 L583.94 226.08 L585.57 225.31 L587.20 224.56 L588.81 223.85 L590.42 223.16 L592.00 222.50 L593.40 221.93 L594.76 221.39 L596.11 220.88 L597.46 220.40 L598.80 219.93 L600.15 219.49 L601.51 219.07 L602.90 218.66 L604.33 218.27 L605.80 217.90 L607.58 217.45 L609.50 216.94 L611.52 216.42 L613.58 215.91 L615.64 215.45 L617.65 215.06 L619.56 214.78 L621.32 214.64 L622.88 214.67 L624.20 214.90 L624.84 215.14 L625.40 215.45 L625.90 215.82 L626.35 216.23 L626.77 216.68 L627.17 217.16 L627.56 217.64 L627.95 218.11 L628.36 218.57 L628.80 219.00" stroke="#2c2c8c" stroke-width="1.45"/>
<path d="M571.30 243.00 L572.90 241.95 L574.50 240.86 L576.09 239.74 L577.68 238.62 L579.27 237.51 L580.87 236.43 L582.48 235.40 L584.10 234.44 L585.74 233.57 L587.40 232.80 L588.97 232.18 L590.57 231.63 L592.19 231.15 L593.82 230.73 L595.45 230.36 L597.09 230.02 L598.72 229.72 L600.33 229.43 L601.93 229.17 L603.50 228.90 L604.94 228.66 L606.39 228.43 L607.86 228.21 L609.31 228.02 L610.75 227.84 L612.17 227.70 L613.54 227.59 L614.86 227.52 L616.12 227.48 L617.30 227.50 L618.10 227.54 L618.88 227.59 L619.64 227.66 L620.37 227.75 L621.07 227.86 L621.76 227.99 L622.41 228.13 L623.04 228.30 L623.63 228.49 L624.20 228.70 L624.61 228.88 L624.98 229.08 L625.34 229.30 L625.68 229.53 L626.00 229.78 L626.32 230.02 L626.63 230.27 L626.95 230.52 L627.27 230.76 L627.60 231.00" stroke="#8a34a8" stroke-width="1.45"/>
</g>
<g stroke="#4a4a4a" stroke-width="1.6" fill="none">
<path d="M458.6 25.4 L722.8 25.4 L722.8 243.9" stroke-width="1.3" stroke="#555"/>
<path d="M458.6 25.4 L458.6 243.9 L722.8 243.9"/>
<path d="M454.6 243.90 L458.6 243.90"/>
<path d="M456.1 225.69 L458.6 225.69"/>
<path d="M454.6 207.48 L458.6 207.48"/>
<path d="M456.1 189.28 L458.6 189.28"/>
<path d="M454.6 171.07 L458.6 171.07"/>
<path d="M456.1 152.86 L458.6 152.86"/>
<path d="M454.6 134.65 L458.6 134.65"/>
<path d="M456.1 116.44 L458.6 116.44"/>
<path d="M454.6 98.23 L458.6 98.23"/>
<path d="M456.1 80.03 L458.6 80.03"/>
<path d="M454.6 61.82 L458.6 61.82"/>
<path d="M456.1 43.61 L458.6 43.61"/>
<path d="M454.6 25.40 L458.6 25.40"/>
<path d="M458.60 243.9 L458.60 247.9"/>
<path d="M485.02 243.9 L485.02 246.4"/>
<path d="M511.44 243.9 L511.44 247.9"/>
<path d="M537.86 243.9 L537.86 246.4"/>
<path d="M564.28 243.9 L564.28 247.9"/>
<path d="M590.70 243.9 L590.70 246.4"/>
<path d="M617.12 243.9 L617.12 247.9"/>
<path d="M643.54 243.9 L643.54 246.4"/>
<path d="M669.96 243.9 L669.96 247.9"/>
<path d="M696.38 243.9 L696.38 246.4"/>
<path d="M722.80 243.9 L722.80 247.9"/>
</g>
<rect x="265.3" y="105.6" width="59.5" height="133.6" fill="#fff" stroke="#444" stroke-width="1.4"/>
<path d="M267.5 114.60 L290.5 114.60" stroke="#333333" stroke-width="1.6"/>
<text x="322.00" y="118.40" text-anchor="end" font-size="12.30" >20<tspan dx="1.2">K</tspan></text>
<path d="M267.5 127.30 L290.5 127.30" stroke="#ee3a3a" stroke-width="1.6"/>
<text x="322.00" y="131.10" text-anchor="end" font-size="12.30" >40<tspan dx="1.2">K</tspan></text>
<path d="M267.5 140.00 L290.5 140.00" stroke="#6cbf4a" stroke-width="1.6"/>
<text x="322.00" y="143.80" text-anchor="end" font-size="12.30" >60<tspan dx="1.2">K</tspan></text>
<path d="M267.5 152.70 L290.5 152.70" stroke="#4a62c4" stroke-width="1.6"/>
<text x="322.00" y="156.50" text-anchor="end" font-size="12.30" >80<tspan dx="1.2">K</tspan></text>
<path d="M267.5 165.40 L290.5 165.40" stroke="#5ccbe2" stroke-width="1.6"/>
<text x="322.00" y="169.20" text-anchor="end" font-size="12.30" textLength="26.6" lengthAdjust="spacingAndGlyphs">120<tspan dx="1.0">K</tspan></text>
<path d="M267.5 178.10 L290.5 178.10" stroke="#cc48a8" stroke-width="1.6"/>
<text x="322.00" y="181.90" text-anchor="end" font-size="12.30" textLength="26.6" lengthAdjust="spacingAndGlyphs">160<tspan dx="1.0">K</tspan></text>
<path d="M267.5 190.80 L290.5 190.80" stroke="#eded1e" stroke-width="1.6"/>
<text x="322.00" y="194.60" text-anchor="end" font-size="12.30" textLength="26.6" lengthAdjust="spacingAndGlyphs">200<tspan dx="1.0">K</tspan></text>
<path d="M267.5 203.50 L290.5 203.50" stroke="#8a8a30" stroke-width="1.6"/>
<text x="322.00" y="207.30" text-anchor="end" font-size="12.30" textLength="26.6" lengthAdjust="spacingAndGlyphs">240<tspan dx="1.0">K</tspan></text>
<path d="M267.5 216.20 L290.5 216.20" stroke="#2c2c8c" stroke-width="1.6"/>
<text x="322.00" y="220.00" text-anchor="end" font-size="12.30" textLength="26.6" lengthAdjust="spacingAndGlyphs">280<tspan dx="1.0">K</tspan></text>
<path d="M267.5 228.90 L290.5 228.90" stroke="#8a34a8" stroke-width="1.6"/>
<text x="322.00" y="232.70" text-anchor="end" font-size="12.30" textLength="26.6" lengthAdjust="spacingAndGlyphs">300<tspan dx="1.0">K</tspan></text>
<rect x="657.0" y="105.2" width="60.5" height="130.3" fill="#fff" stroke="#444" stroke-width="1.4"/>
<path d="M659.5 114.40 L682.5 114.40" stroke="#333333" stroke-width="1.6"/>
<text x="714.50" y="118.20" text-anchor="end" font-size="12.30" >20<tspan dx="1.2">K</tspan></text>
<path d="M659.5 126.78 L682.5 126.78" stroke="#ee3a3a" stroke-width="1.6"/>
<text x="714.50" y="130.58" text-anchor="end" font-size="12.30" >40<tspan dx="1.2">K</tspan></text>
<path d="M659.5 139.16 L682.5 139.16" stroke="#6cbf4a" stroke-width="1.6"/>
<text x="714.50" y="142.96" text-anchor="end" font-size="12.30" >60<tspan dx="1.2">K</tspan></text>
<path d="M659.5 151.54 L682.5 151.54" stroke="#4a62c4" stroke-width="1.6"/>
<text x="714.50" y="155.34" text-anchor="end" font-size="12.30" >80<tspan dx="1.2">K</tspan></text>
<path d="M659.5 163.92 L682.5 163.92" stroke="#5ccbe2" stroke-width="1.6"/>
<text x="714.50" y="167.72" text-anchor="end" font-size="12.30" textLength="26.6" lengthAdjust="spacingAndGlyphs">120<tspan dx="1.0">K</tspan></text>
<path d="M659.5 176.30 L682.5 176.30" stroke="#cc48a8" stroke-width="1.6"/>
<text x="714.50" y="180.10" text-anchor="end" font-size="12.30" textLength="26.6" lengthAdjust="spacingAndGlyphs">160<tspan dx="1.0">K</tspan></text>
<path d="M659.5 188.68 L682.5 188.68" stroke="#eded1e" stroke-width="1.6"/>
<text x="714.50" y="192.48" text-anchor="end" font-size="12.30" textLength="26.6" lengthAdjust="spacingAndGlyphs">200<tspan dx="1.0">K</tspan></text>
<path d="M659.5 201.06 L682.5 201.06" stroke="#8a8a30" stroke-width="1.6"/>
<text x="714.50" y="204.86" text-anchor="end" font-size="12.30" textLength="26.6" lengthAdjust="spacingAndGlyphs">240<tspan dx="1.0">K</tspan></text>
<path d="M659.5 213.44 L682.5 213.44" stroke="#2c2c8c" stroke-width="1.6"/>
<text x="714.50" y="217.24" text-anchor="end" font-size="12.30" textLength="26.6" lengthAdjust="spacingAndGlyphs">280<tspan dx="1.0">K</tspan></text>
<path d="M659.5 225.82 L682.5 225.82" stroke="#8a34a8" stroke-width="1.6"/>
<text x="714.50" y="229.62" text-anchor="end" font-size="12.30" textLength="26.6" lengthAdjust="spacingAndGlyphs">300<tspan dx="1.0">K</tspan></text>
<text x="48.60" y="249.40" text-anchor="end" font-size="12.10" >0</text>
<text x="48.60" y="217.30" text-anchor="end" font-size="12.10" >4</text>
<text x="48.60" y="185.20" text-anchor="end" font-size="12.10" >8</text>
<text x="48.60" y="153.10" text-anchor="end" font-size="12.10" >12</text>
<text x="48.60" y="121.00" text-anchor="end" font-size="12.10" >16</text>
<text x="48.60" y="88.90" text-anchor="end" font-size="12.10" >20</text>
<text x="48.60" y="56.80" text-anchor="end" font-size="12.10" >24</text>
<text x="48.60" y="24.70" text-anchor="end" font-size="12.10" >28</text>
<text x="335.80" y="248.40" text-anchor="start" font-size="12.10" >0</text>
<text x="335.80" y="210.95" text-anchor="start" font-size="12.10" >2</text>
<text x="335.80" y="173.50" text-anchor="start" font-size="12.10" >4</text>
<text x="335.80" y="136.05" text-anchor="start" font-size="12.10" >6</text>
<text x="335.80" y="98.60" text-anchor="start" font-size="12.10" >8</text>
<text x="335.80" y="61.15" text-anchor="start" font-size="12.10" >10</text>
<text x="335.80" y="23.70" text-anchor="start" font-size="12.10" >12</text>
<text x="59.50" y="261.20" text-anchor="middle" font-size="12.10" >0.0</text>
<text x="113.50" y="261.20" text-anchor="middle" font-size="12.10" >0.2</text>
<text x="167.50" y="261.20" text-anchor="middle" font-size="12.10" >0.4</text>
<text x="221.50" y="261.20" text-anchor="middle" font-size="12.10" >0.6</text>
<text x="275.50" y="261.20" text-anchor="middle" font-size="12.10" >0.8</text>
<text x="329.50" y="261.20" text-anchor="middle" font-size="12.10" >1.0</text>
<text x="451.20" y="246.90" text-anchor="end" font-size="12.10" >0</text>
<text x="451.20" y="210.48" text-anchor="end" font-size="12.10" >10</text>
<text x="451.20" y="174.07" text-anchor="end" font-size="12.10" >20</text>
<text x="451.20" y="137.65" text-anchor="end" font-size="12.10" >30</text>
<text x="451.20" y="101.23" text-anchor="end" font-size="12.10" >40</text>
<text x="451.20" y="64.82" text-anchor="end" font-size="12.10" >50</text>
<text x="451.20" y="28.40" text-anchor="end" font-size="12.10" >60</text>
<text x="458.60" y="261.20" text-anchor="middle" font-size="12.10" >0.0</text>
<text x="511.44" y="261.20" text-anchor="middle" font-size="12.10" >0.2</text>
<text x="564.28" y="261.20" text-anchor="middle" font-size="12.10" >0.4</text>
<text x="617.12" y="261.20" text-anchor="middle" font-size="12.10" >0.6</text>
<text x="669.96" y="261.20" text-anchor="middle" font-size="12.10" >0.8</text>
<text x="722.80" y="261.20" text-anchor="middle" font-size="12.10" >1.0</text>
<text x="192.00" y="276.40" text-anchor="middle" font-size="12.50" textLength="55" lengthAdjust="spacingAndGlyphs">Current (A)</text>
<text x="593.50" y="276.40" text-anchor="middle" font-size="12.50" textLength="56" lengthAdjust="spacingAndGlyphs">Current (A)</text>
<text x="0.00" y="0.00" text-anchor="middle" font-size="12.50" transform="translate(28.6 133.3) rotate(-90)" textLength="56" lengthAdjust="spacingAndGlyphs">Voltage (V)</text>
<text x="0.00" y="0.00" text-anchor="middle" font-size="12.50" transform="translate(426.6 134.2) rotate(-90)" textLength="116" lengthAdjust="spacingAndGlyphs">Wall plug efficiency (%)</text>
<text x="0.00" y="0.00" text-anchor="middle" font-size="12.50" transform="translate(352.6 133) rotate(90)" textLength="90" lengthAdjust="spacingAndGlyphs">Optical power (W)</text>
<text x="19.00" y="23.00" text-anchor="start" font-size="13.00" font-weight="bold" style="fill:#111">a</text>
<text x="416.40" y="28.00" text-anchor="start" font-size="13.50" font-weight="bold" style="fill:#111">b</text>
</svg>
</body></html>
